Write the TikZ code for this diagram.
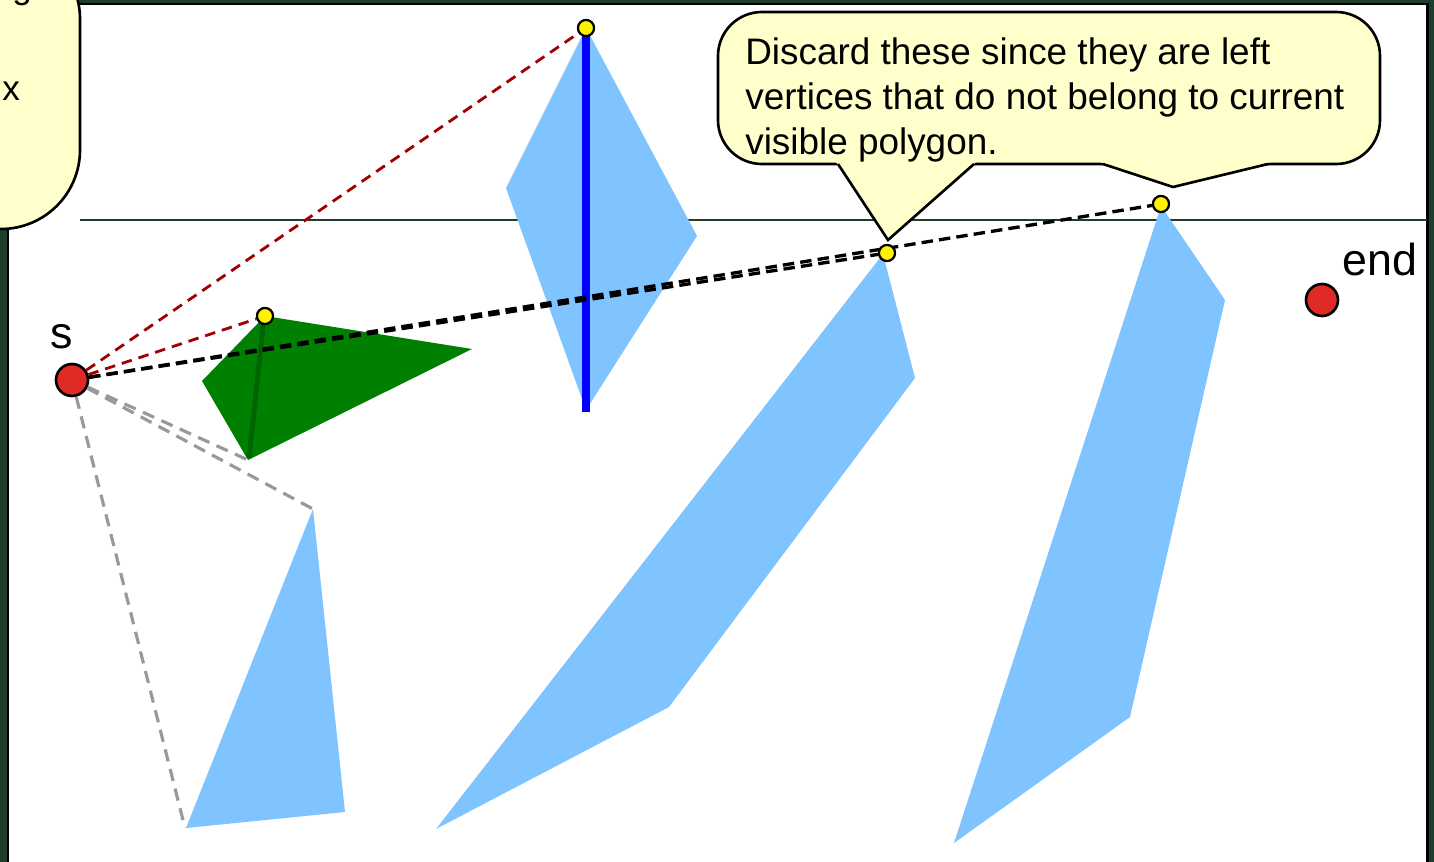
\documentclass[tikz,border=0pt]{standalone}
\usepackage{fontspec}
\setmainfont{Liberation Sans}
\usepackage{tikz}
\usetikzlibrary{calc}
\definecolor{bgdark}{HTML}{1F3D2B}
\definecolor{noteyellow}{HTML}{FFFFCC}
\definecolor{polyblue}{HTML}{7FC3FF}
\definecolor{polygreen}{HTML}{008000}
\definecolor{edgegreen}{HTML}{006400}
\definecolor{rayred}{HTML}{A00000}
\definecolor{raygray}{HTML}{999999}
\definecolor{ptred}{HTML}{E02A25}

\begin{document}
\begin{tikzpicture}[x=0.02cm, y=-0.02cm,
  endpt/.style={circle, draw, line width=1.5pt, fill=ptred, minimum size=0.64cm, inner sep=0pt},
  vert/.style={circle, draw, line width=1.2pt, fill=yellow, minimum size=0.32cm, inner sep=0pt},
  lbl/.style={inner sep=0pt, font=\fontsize{25.5}{30}\selectfont},
  note/.style={fill=noteyellow, draw, line width=1.5pt},
  blackray/.style={draw=black, line width=1.9pt, dash pattern=on 6.5pt off 3.5pt},
  redray/.style={draw=rayred, line width=1.6pt, dash pattern=on 6pt off 4pt},
  grayray/.style={draw=raygray, line width=1.8pt, dash pattern=on 7pt off 4.5pt}]
  \useasboundingbox (0,0) rectangle (1434,862);
  \fill[bgdark] (0,0) rectangle (1434,862);
  \filldraw[fill=white, draw=black, line width=1.4pt] (8,4) rectangle (1427.5,900);
  \draw[bgdark, line width=0.8pt] (80,220) -- (1427,220);

  % obstacles
  \fill[polyblue] (313,509) -- (345,812) -- (186,828) -- cycle;
  \fill[polyblue] (883,254) -- (915,378) -- (669,707) -- (436,829) -- cycle;
  \fill[polyblue] (1161,206) -- (1225,300) -- (1130,717) -- (954,843) -- cycle;
  \fill[polyblue] (586,28) -- (697,236) -- (586,410) -- (506,188) -- cycle;
  \fill[polygreen] (265,316) -- (472,349) -- (248,460) -- (202,381) -- cycle;
  \draw[edgegreen, line width=2.8pt] (264,318) -- (249,458);
  \draw[blue, line width=4.5pt] (586,28) -- (586,412);

  \coordinate (gbot) at (248,460);
  \coordinate (tritop) at (313,509);
  \coordinate (tribot) at (185,828);

  \node[endpt] (s) at (72,380) {};
  \node[endpt] (end) at (1322,300) {};
  \node[lbl, anchor=base] (slbl) at (62,348) {s};
  \node[lbl, anchor=base west] (endlbl) at (1342,275) {end};

  \node[vert] (gtop) at (265,316) {};
  \node[vert] (dtop) at (586,28) {};
  \node[vert] (mtop) at (887,253) {};
  \node[vert] (rtop) at (1161,204) {};

  % rays from s
  \draw[grayray] (s) -- (gbot);
  \draw[grayray] (s) -- (tritop);
  \draw[grayray] (s) -- (tribot);
  \draw[redray] (s) -- (dtop);
  \draw[redray] (s) -- (gtop);
  \draw[blackray] (s) -- (mtop);
  \draw[blackray] (s) -- (rtop);
  \node[vert] at (gtop) {};
  \node[vert] at (dtop) {};
  \node[vert] at (mtop) {};
  \node[vert] at (rtop) {};

  % callouts
  \draw[note, rounded corners=25] (718,12) rectangle (1380,164);
  \fill[noteyellow] (836,162) -- (888,240) -- (976,162) -- cycle;
  \draw[line width=1.5pt] (838,164) -- (888,240) -- (974,164);
  \fill[noteyellow] (1100,162) -- (1173,187) -- (1271,162) -- cycle;
  \draw[line width=1.5pt] (1103,164) -- (1173,187) -- (1268,164);
  \node[inner sep=0pt, anchor=base west, align=left, font=\fontsize{21}{25.5}\selectfont] (discard) at (745,154)
    {Discard these since they are left\\vertices that do not belong to current\\visible polygon.};

  \draw[note, rounded corners=45] (-80,-60) rectangle (80,229);
  \node[inner sep=0pt, anchor=base west, font=\fontsize{20}{25}\selectfont] (gtxt) at (12,-2) {g};
  \node[inner sep=0pt, anchor=base west, font=\fontsize{20}{25}\selectfont] (xtxt) at (2,100) {x};
\end{tikzpicture}
\end{document}
